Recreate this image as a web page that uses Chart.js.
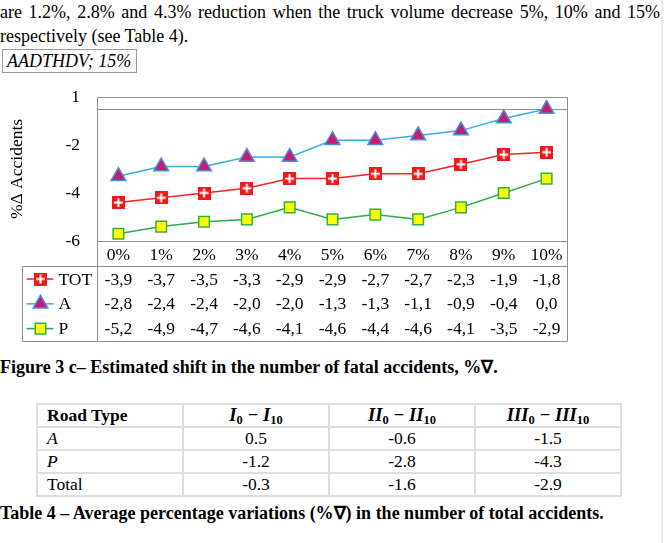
<!DOCTYPE html>
<html><head><meta charset="utf-8">
<script src="https://cdn.jsdelivr.net/npm/chart.js@4.4.1/dist/chart.umd.min.js"></script>
<style>
html,body{margin:0;padding:0;background:#fff;}
body{width:670px;height:543px;position:relative;overflow:hidden;font-family:'Liberation Serif','Times New Roman',serif;color:#000;}
.abs{position:absolute;}
#l1{left:0;top:0;width:660px;font-size:18px;line-height:24px;text-align:justify;text-align-last:justify;word-spacing:-2px;}
#l2{left:0;top:24px;font-size:18px;line-height:24px;white-space:nowrap;}
#box{left:2px;top:49px;width:129px;height:22px;border:1px solid #9a9a9a;font-size:18px;font-style:italic;line-height:22px;padding-left:4px;box-sizing:content-box;white-space:nowrap;}
#chartWrap{left:0;top:80px;width:600px;height:270px;}
#cap1{left:0;top:356px;font-size:18px;font-weight:bold;line-height:22px;white-space:nowrap;}
#cap2{left:0;top:502px;font-size:18px;font-weight:bold;line-height:22px;white-space:nowrap;}
#tbl{left:36px;top:403px;border-collapse:collapse;font-size:17.5px;}
#tbl td,#tbl th{border:2px solid #dedede;padding:0;height:21px;line-height:21px;width:144px;text-align:center;}
#tbl th{font-weight:bold;}
#tbl th.rt,#tbl td.rt{text-align:left;padding-left:9px;width:135px;}
.m{font-style:italic;font-weight:bold;font-size:18.5px;}
.m sub{font-style:normal;font-size:12.5px;vertical-align:-3px;line-height:0;}
#edge{left:661px;top:0;width:2px;height:543px;background:#ececec;}
</style></head>
<body>
<div id="l1" class="abs">are 1.2%, 2.8% and 4.3% reduction when the truck volume decrease 5%, 10% and 15%</div>
<div id="l2" class="abs">respectively (see Table 4).</div>
<div id="box" class="abs">AADTHDV; 15%</div>
<div id="chartWrap" class="abs"><canvas id="c" width="600" height="270"></canvas></div>
<div id="cap1" class="abs">Figure 3 c– Estimated shift in the number of fatal accidents, %∇.</div>
<table id="tbl" class="abs"></table>
<div id="cap2" class="abs">Table 4 – Average percentage variations (%∇) in the number of total accidents.</div>
<div id="edge" class="abs"></div>
<script>
// ---- chart data ----
const categories = ['0%','1%','2%','3%','4%','5%','6%','7%','8%','9%','10%'];
const seriesNames = ['TOT','A','P'];
const totValues = [-3.9,-3.7,-3.5,-3.3,-2.9,-2.9,-2.7,-2.7,-2.3,-1.9,-1.8];
const aValues   = [-2.8,-2.4,-2.4,-2.0,-2.0,-1.3,-1.3,-1.1,-0.9,-0.4,0.0];
const pValues   = [-5.2,-4.9,-4.7,-4.6,-4.1,-4.6,-4.4,-4.6,-4.1,-3.5,-2.9];
const yTickValues = [-5.5,-3.5,-1.5,0.5];
const yTickLabels = ['-6','-4','-2','1'];
const yTitle = '%Δ Accidents';

// ---- table 4 data ----
const tableHeaders = ['Road Type',['I','I'],['II','II'],['III','III']];
const roadTypes = ['A','P','Total'];
const colI   = [0.5,-1.2,-0.3];
const colII  = [-0.6,-2.8,-1.6];
const colIII = [-1.5,-4.3,-2.9];

// build table
(function(){
  const t = document.getElementById('tbl');
  let h = '<tr><th class="rt">'+tableHeaders[0]+'</th>';
  for (let i=1;i<tableHeaders.length;i++){
    const [a,b] = tableHeaders[i];
    h += '<th><span class="m">'+a+'<sub>0</sub> − '+b+'<sub>10</sub></span></th>';
  }
  h += '</tr>';
  roadTypes.forEach((r,i)=>{
    const lab = r==='Total' ? r : '<i>'+r+'</i>';
    h += '<tr><td class="rt">'+lab+'</td><td>'+colI[i].toFixed(1)+'</td><td>'+colII[i].toFixed(1)+'</td><td>'+colIII[i].toFixed(1)+'</td></tr>';
  });
  t.innerHTML = h;
})();

function makeTotMarker(){
  const c = document.createElement('canvas'); c.width = 13; c.height = 13;
  const g = c.getContext('2d');
  g.fillStyle = '#f01818'; g.fillRect(0,0,13,13);
  g.fillStyle = '#ffffff'; g.fillRect(5.5,2,2,9); g.fillRect(2,5.5,9,2);
  return c;
}
const totMarker = makeTotMarker();

const fmt = v => v.toFixed(1).replace('.', ',');

function drawMarker(ctx, ds, x, y){
  const st = ds.pointStyle;
  if (typeof st === 'object'){
    ctx.drawImage(st, x - st.width/2, y - st.height/2);
    return;
  }
  const r = ds.pointRadius;
  ctx.beginPath();
  if (st === 'triangle'){
    ctx.moveTo(x, y - r);
    ctx.lineTo(x + r*Math.sqrt(3)/2, y + r/2);
    ctx.lineTo(x - r*Math.sqrt(3)/2, y + r/2);
    ctx.closePath();
  } else {
    const s = r*Math.SQRT1_2;
    ctx.rect(x - s, y - s, 2*s, 2*s);
  }
  ctx.fillStyle = ds.pointBackgroundColor; ctx.fill();
  ctx.lineWidth = ds.pointBorderWidth; ctx.strokeStyle = ds.pointBorderColor; ctx.stroke();
}

const FAMILY = '"Liberation Serif", "Times New Roman", serif';
const frameColor = '#8e8e8e';
const tablePlugin = {
  id: 'frameAndTable',
  beforeDatasetsDraw(chart){
    const {ctx, chartArea:a, scales:{y}} = chart;
    ctx.save();
    ctx.strokeStyle = frameColor; ctx.lineWidth = 1;
    const y0 = Math.round(y.getPixelForValue(0)) + 0.5;
    ctx.beginPath(); ctx.moveTo(a.left, y0); ctx.lineTo(a.right, y0); ctx.stroke();
    ctx.restore();
  },
  afterDraw(chart){
    const {ctx, chartArea:a, scales:{x}} = chart;
    const L = Math.round(a.left)+0.5, R = Math.round(a.right)-0.5;
    const T = Math.round(a.top)+0.5, B = Math.round(a.bottom)+0.5;
    const tTop = B + 25, tBot = B + 100, tLeft = 22.5;
    ctx.save();
    ctx.strokeStyle = frameColor; ctx.lineWidth = 1;
    ctx.beginPath();
    ctx.moveTo(L,T); ctx.lineTo(R,T);
    ctx.moveTo(L,B); ctx.lineTo(R,B);
    ctx.moveTo(L,T); ctx.lineTo(L,tBot);
    ctx.moveTo(R,T); ctx.lineTo(R,tBot);
    ctx.moveTo(tLeft,tTop); ctx.lineTo(R,tTop);
    ctx.moveTo(tLeft,tBot); ctx.lineTo(R,tBot);
    ctx.moveTo(tLeft,tTop); ctx.lineTo(tLeft,tBot);
    ctx.stroke();
    ctx.font = '17.5px ' + FAMILY;
    ctx.textBaseline = 'middle';
    chart.data.datasets.forEach((ds, i) => {
      const cy = tTop + 12.5 + i*24.8;
      ctx.strokeStyle = ds.borderColor; ctx.lineWidth = ds.borderWidth;
      ctx.beginPath(); ctx.moveTo(tLeft+4, cy); ctx.lineTo(tLeft+31, cy); ctx.stroke();
      drawMarker(ctx, ds, tLeft+18, cy);
      ctx.fillStyle = '#000'; ctx.textAlign = 'left';
      ctx.fillText(ds.label, tLeft+36, cy+1);
      ctx.textAlign = 'center';
      ds.data.forEach((v, j) => ctx.fillText(fmt(v), x.getPixelForValue(j), cy+1));
    });
    ctx.restore();
  }
};

function build(){
  Chart.defaults.font.family = FAMILY;
  Chart.defaults.font.size = 17.5;
  Chart.defaults.color = '#000';
  new Chart(document.getElementById('c'), {
    type: 'line',
    data: {
      labels: categories,
      datasets: [
        {label: seriesNames[0], data: totValues, borderColor:'#ff2020', borderWidth:1.5,
         pointStyle: totMarker, pointRadius: 6.5, tension: 0},
        {label: seriesNames[1], data: aValues, borderColor:'#38aee6', borderWidth:1.5,
         pointStyle:'triangle', pointRadius:8.5, pointBackgroundColor:'#c81a6e', pointBorderColor:'#4a8edc', pointBorderWidth:1.5, tension: 0},
        {label: seriesNames[2], data: pValues, borderColor:'#27ad4c', borderWidth:1.5,
         pointStyle:'rect', pointRadius:7.5, pointBackgroundColor:'#ffff00', pointBorderColor:'#33b043', pointBorderWidth:1.5, tension: 0}
      ]
    },
    options: {
      responsive: false,
      animation: false,
      layout: {autoPadding:false, padding: {left:0, top:17, right:32, bottom:9}},
      plugins: {legend:{display:false}, tooltip:{enabled:false}},
      scales: {
        x: {
          type:'category', offset:true,
          grid:{display:false, drawTicks:false}, border:{display:false},
          ticks:{padding:4, maxRotation:0, autoSkip:false},
          afterFit(s){ s.height = 100; s.paddingLeft = 0; s.paddingRight = 0; }
        },
        y: {
          min:-5.5, max:0.5,
          grid:{display:false, drawTicks:false}, border:{display:false},
          afterBuildTicks(s){ s.ticks = yTickValues.map(v => ({value:v})); },
          ticks:{padding:17, autoSkip:false, callback:(v,i)=>yTickLabels[i]},
          title:{display:true, text:yTitle, font:{size:17.5}, padding:{top:7,bottom:0}},
          afterFit(s){ s.width = 97; s.paddingTop = 0; s.paddingBottom = 0; }
        }
      }
    },
    plugins:[tablePlugin]
  });
}

const fontsToLoad = ['17px "Liberation Serif"','italic 17px "Liberation Serif"','bold 17px "Liberation Serif"'];
Promise.all(fontsToLoad.map(f => document.fonts.load(f))).then(build, build);
</script>
</body></html>
